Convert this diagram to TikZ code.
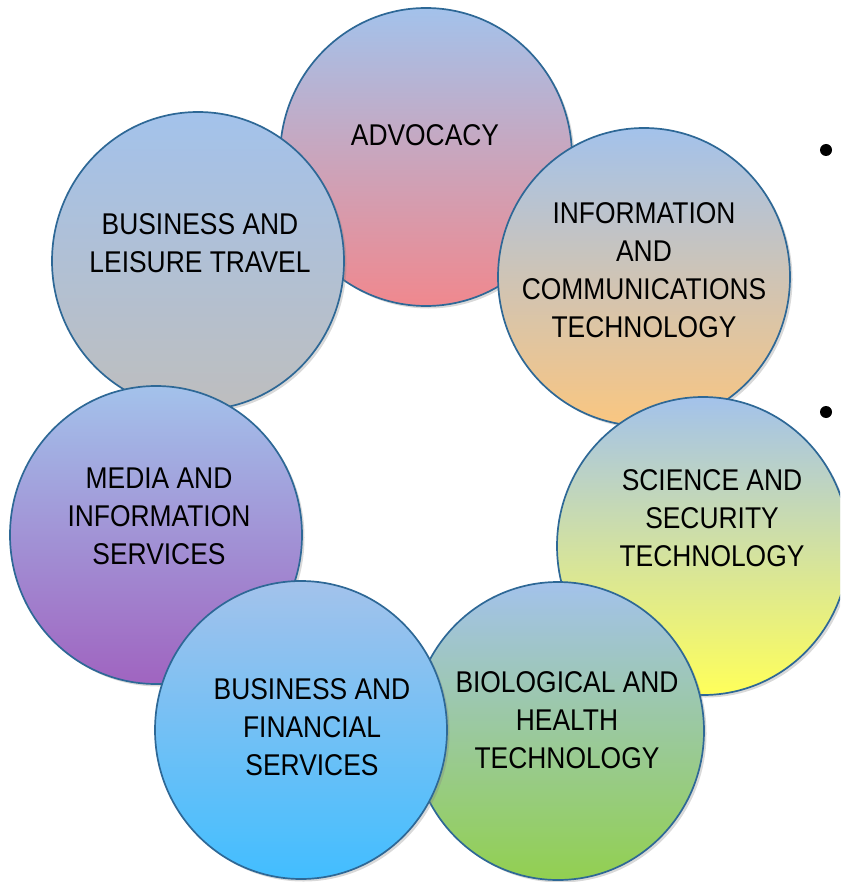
\documentclass[tikz,border=0pt]{standalone}
\usepackage{fontspec}
\setmainfont{Liberation Sans}[FakeStretch=0.88]
\usetikzlibrary{shapes.geometric,shadows}
\definecolor{topblue}{RGB}{163,194,235}
\definecolor{rim}{RGB}{46,104,150}
\definecolor{advpink}{RGB}{240,136,142}
\definecolor{infoorange}{RGB}{250,198,128}
\definecolor{sciyellow}{RGB}{255,255,90}
\definecolor{biogreen}{RGB}{146,208,80}
\definecolor{finblue}{RGB}{66,190,255}
\definecolor{mediapurple}{RGB}{160,100,192}
\definecolor{travelgray}{RGB}{190,190,190}
\tikzset{
  bubble/.style={ellipse, draw=rim, line width=1.7pt, minimum width=292pt,
    minimum height=298pt, inner sep=0pt, top color=topblue,
    drop shadow={shadow xshift=2.5pt, shadow yshift=-2.5pt, opacity=0.3}},
  caption/.style={align=center, inner sep=0pt, font=\fontsize{30}{38}\selectfont},
  dot/.style={circle, fill=black, minimum size=12pt, inner sep=0pt}
}
\begin{document}
\begin{tikzpicture}[x=1pt,y=-1pt]
        \useasboundingbox (0,0) rectangle (840,882);
        \clip (0,0) rectangle (840,882);
        \node[bubble, bottom color=advpink] at (426,157) (adv) {};
        \node[caption] at (425,135) (advtext) {ADVOCACY};
        \node[bubble, bottom color=infoorange] at (644,277) (info) {};
        \node[caption] at (644,270) (infotext) {INFORMATION\\AND\\COMMUNICATIONS\\TECHNOLOGY};
        \node[bubble, bottom color=sciyellow] at (703,546) (sci) {};
        \node[caption] at (712,518) (scitext) {SCIENCE AND\\SECURITY\\TECHNOLOGY};
        \node[bubble, bottom color=biogreen] at (558,731) (bio) {};
        \node[caption] at (567,720) (biotext) {BIOLOGICAL AND\\HEALTH\\TECHNOLOGY};
        \node[bubble, bottom color=travelgray] at (198,261) (travel) {};
        \node[caption] at (200,243) (traveltext) {BUSINESS AND\\LEISURE TRAVEL};
        \node[bubble, bottom color=mediapurple] at (156,535) (media) {};
        \node[caption] at (159,516) (mediatext) {MEDIA AND\\INFORMATION\\SERVICES};
        \node[bubble, bottom color=finblue] at (301,730) (fin) {};
        \node[caption] at (312,727) (fintext) {BUSINESS AND\\FINANCIAL\\SERVICES};
        \node[dot] at (826,150) (bulletA) {};
        \node[dot] at (826,412) (bulletB) {};
      \end{tikzpicture}
\end{document}
